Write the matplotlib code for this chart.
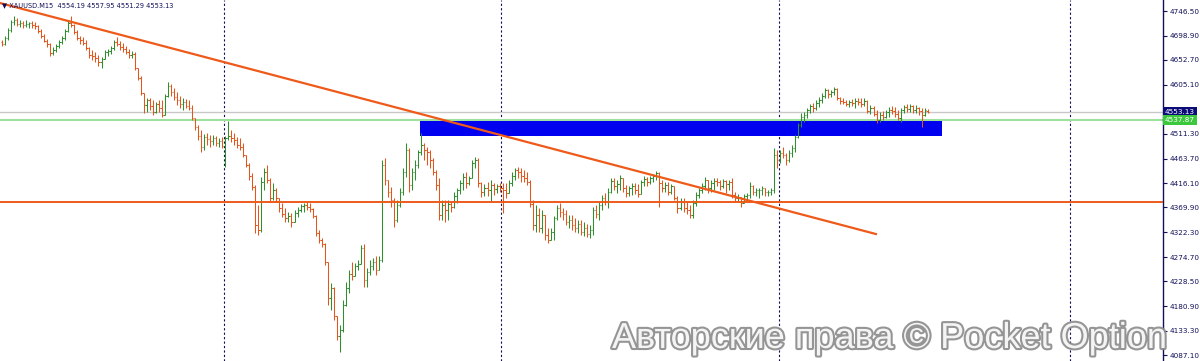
import numpy as np
import matplotlib
matplotlib.use("Agg")
import matplotlib.pyplot as plt
import matplotlib.patheffects as pe
import matplotlib.transforms as mtransforms
from matplotlib.patches import Rectangle

# XAUUSD M15 bars (prices)
highs = [4691, 4699, 4714, 4729, 4737, 4733, 4729, 4727, 4729, 4725,
         4727, 4725, 4720, 4712, 4702, 4693, 4685, 4678, 4683, 4691,
         4699, 4712, 4729, 4737, 4722, 4710, 4699, 4697, 4691, 4678,
         4672, 4668, 4662, 4658, 4672, 4674, 4679, 4691, 4697, 4689,
         4685, 4679, 4674, 4670, 4668, 4637, 4622, 4589, 4580, 4580,
         4576, 4572, 4576, 4576, 4587, 4610, 4607, 4599, 4591, 4584,
         4580, 4578, 4576, 4566, 4541, 4528, 4518, 4511, 4513, 4509,
         4509, 4507, 4503, 4505, 4507, 4536, 4518, 4513, 4505, 4503,
         4493, 4471, 4455, 4436, 4413, 4375, 4428, 4446, 4451, 4426,
         4417, 4407, 4388, 4378, 4369, 4361, 4359, 4365, 4371, 4377,
         4378, 4380, 4378, 4369, 4355, 4327, 4311, 4302, 4265, 4225,
         4217, 4158, 4145, 4193, 4227, 4250, 4265, 4263, 4269, 4298,
         4300, 4254, 4269, 4273, 4277, 4277, 4461, 4465, 4423, 4409,
         4388, 4384, 4407, 4446, 4493, 4484, 4446, 4461, 4480, 4513,
         4493, 4486, 4480, 4465, 4442, 4426, 4384, 4384, 4384, 4380,
         4400, 4407, 4423, 4436, 4438, 4430, 4461, 4467, 4465, 4419,
         4415, 4419, 4423, 4417, 4415, 4417, 4417, 4417, 4423, 4438,
         4446, 4447, 4446, 4442, 4438, 4423, 4384, 4375, 4369, 4365,
         4336, 4331, 4331, 4354, 4375, 4378, 4369, 4365, 4355, 4355,
         4350, 4346, 4346, 4342, 4338, 4336, 4371, 4375, 4380, 4394,
         4398, 4407, 4426, 4426, 4423, 4432, 4423, 4413, 4411, 4417,
         4417, 4415, 4423, 4430, 4428, 4430, 4434, 4440, 4438, 4423,
         4419, 4419, 4415, 4409, 4392, 4388, 4388, 4380, 4375, 4384,
         4400, 4407, 4417, 4428, 4423, 4423, 4426, 4426, 4423, 4424,
         4423, 4423, 4426, 4400, 4396, 4390, 4396, 4398, 4419, 4413,
         4407, 4407, 4411, 4405, 4403, 4407, 4484, 4480, 4480, 4486,
         4474, 4480, 4490, 4509, 4532, 4551, 4553, 4561, 4568, 4570,
         4576, 4582, 4589, 4599, 4597, 4595, 4601, 4599, 4582, 4580,
         4576, 4576, 4578, 4580, 4580, 4580, 4580, 4576, 4566, 4564,
         4557, 4553, 4555, 4557, 4562, 4564, 4562, 4557, 4561, 4566,
         4568, 4568, 4566, 4566, 4562, 4561, 4561, 4557.95]

lows = [4679, 4681, 4691, 4706, 4720, 4718, 4716, 4714, 4716, 4714,
        4714, 4712, 4704, 4695, 4687, 4678, 4660, 4662, 4668, 4676,
        4683, 4691, 4706, 4716, 4702, 4691, 4683, 4681, 4672, 4656,
        4653, 4649, 4641, 4637, 4656, 4660, 4664, 4672, 4679, 4672,
        4668, 4664, 4656, 4656, 4633, 4614, 4586, 4551, 4553, 4557,
        4547, 4551, 4553, 4543, 4551, 4582, 4584, 4576, 4566, 4561,
        4557, 4561, 4557, 4538, 4518, 4499, 4476, 4480, 4490, 4486,
        4490, 4488, 4486, 4484, 4447, 4499, 4495, 4490, 4484, 4480,
        4467, 4447, 4423, 4403, 4321, 4317, 4323, 4403, 4417, 4380,
        4384, 4380, 4361, 4352, 4342, 4342, 4332, 4342, 4352, 4361,
        4361, 4365, 4361, 4350, 4315, 4302, 4294, 4260, 4183, 4173,
        4154, 4116, 4093, 4131, 4181, 4206, 4231, 4240, 4250, 4265,
        4217, 4217, 4240, 4250, 4240, 4250, 4265, 4413, 4390, 4371,
        4332, 4342, 4371, 4394, 4428, 4400, 4403, 4423, 4446, 4471,
        4461, 4451, 4446, 4432, 4403, 4346, 4346, 4342, 4346, 4361,
        4369, 4378, 4396, 4403, 4407, 4413, 4426, 4446, 4409, 4390,
        4392, 4392, 4380, 4394, 4398, 4400, 4359, 4388, 4398, 4411,
        4423, 4426, 4419, 4419, 4413, 4371, 4327, 4323, 4323, 4321,
        4308, 4302, 4308, 4308, 4346, 4352, 4346, 4336, 4331, 4327,
        4323, 4321, 4317, 4315, 4313, 4311, 4317, 4350, 4346, 4365,
        4375, 4369, 4398, 4403, 4398, 4403, 4400, 4390, 4392, 4394,
        4396, 4390, 4396, 4411, 4411, 4415, 4419, 4423, 4371, 4400,
        4400, 4394, 4396, 4384, 4359, 4365, 4361, 4357, 4350, 4350,
        4373, 4388, 4398, 4403, 4398, 4400, 4403, 4411, 4403, 4407,
        4398, 4403, 4388, 4380, 4382, 4371, 4380, 4384, 4388, 4394,
        4392, 4388, 4394, 4392, 4392, 4394, 4398, 4446, 4455, 4465,
        4451, 4457, 4467, 4476, 4503, 4524, 4534, 4541, 4551, 4553,
        4557, 4562, 4570, 4580, 4580, 4582, 4586, 4576, 4568, 4568,
        4564, 4562, 4564, 4561, 4566, 4562, 4564, 4551, 4549, 4545,
        4532, 4534, 4538, 4541, 4543, 4549, 4543, 4538, 4534, 4551,
        4553, 4553, 4551, 4551, 4547, 4524, 4545, 4551.29]

closes = [4683, 4695, 4710, 4725, 4729, 4722, 4724, 4720, 4722, 4724,
          4720, 4718, 4708, 4699, 4689, 4683, 4666, 4672, 4679, 4687,
          4695, 4708, 4724, 4720, 4706, 4695, 4691, 4685, 4676, 4662,
          4660, 4656, 4649, 4655, 4668, 4670, 4676, 4687, 4683, 4678,
          4674, 4668, 4662, 4664, 4637, 4618, 4589, 4566, 4576, 4564,
          4553, 4568, 4561, 4547, 4584, 4603, 4591, 4582, 4576, 4568,
          4572, 4564, 4561, 4541, 4524, 4507, 4486, 4505, 4501, 4497,
          4503, 4493, 4497, 4488, 4503, 4507, 4503, 4499, 4490, 4486,
          4471, 4451, 4430, 4409, 4336, 4327, 4419, 4438, 4423, 4388,
          4403, 4388, 4369, 4357, 4350, 4354, 4342, 4359, 4365, 4373,
          4375, 4371, 4367, 4354, 4321, 4308, 4300, 4265, 4196, 4216,
          4162, 4124, 4135, 4183, 4216, 4242, 4239, 4258, 4262, 4292,
          4231, 4246, 4258, 4265, 4250, 4269, 4451, 4423, 4400, 4384,
          4346, 4375, 4400, 4438, 4480, 4413, 4438, 4451, 4476, 4490,
          4480, 4476, 4461, 4438, 4413, 4355, 4375, 4365, 4377, 4371,
          4392, 4403, 4417, 4428, 4417, 4426, 4455, 4461, 4417, 4400,
          4407, 4403, 4413, 4405, 4411, 4407, 4403, 4398, 4417, 4430,
          4442, 4438, 4430, 4426, 4419, 4377, 4336, 4355, 4331, 4355,
          4317, 4308, 4323, 4350, 4369, 4361, 4357, 4342, 4346, 4336,
          4331, 4338, 4323, 4331, 4319, 4327, 4365, 4357, 4375, 4388,
          4380, 4400, 4421, 4411, 4415, 4426, 4407, 4398, 4407, 4411,
          4403, 4396, 4419, 4424, 4419, 4426, 4430, 4436, 4417, 4407,
          4413, 4400, 4411, 4388, 4369, 4380, 4369, 4365, 4355, 4378,
          4394, 4403, 4411, 4423, 4407, 4417, 4421, 4419, 4411, 4421,
          4415, 4419, 4394, 4388, 4390, 4378, 4392, 4394, 4411, 4400,
          4403, 4403, 4407, 4400, 4400, 4403, 4471, 4461, 4474, 4471,
          4461, 4474, 4484, 4505, 4528, 4543, 4547, 4557, 4564, 4561,
          4570, 4576, 4584, 4595, 4587, 4591, 4597, 4580, 4574, 4572,
          4568, 4572, 4570, 4574, 4572, 4568, 4574, 4555, 4561, 4549,
          4538, 4547, 4543, 4553, 4557, 4555, 4549, 4541, 4557, 4562,
          4559, 4564, 4557, 4561, 4555, 4547, 4557, 4553.13]

first_open = 4687
last_open = 4554.19
level_price = 4537.87

# drawings on the chart (bar index, price)
trend_idx = [-0.66, 289.8]
trend_price = [4761.8, 4319.0]
support_price = 4380.4
zone_idx = [138.6, 311.7]
zone_price = [4506.0, 4536.0]
day_breaks = [73.6, 165.5, 257.6, 354.1]

yticks = [4746.50, 4698.90, 4652.70, 4605.10, 4511.30, 4463.70, 4416.10,
          4369.90, 4322.30, 4274.70, 4228.50, 4180.90, 4133.30, 4087.10]

up_col = "#2f8f2f"
dn_col = "#e2561c"
line_col = "#ee5a1a"
navy = "#10105a"

highs = np.array(highs, dtype=float)
lows = np.array(lows, dtype=float)
closes = np.array(closes, dtype=float)
opens = np.concatenate([[first_open], closes[:-1]])
opens[-1] = last_open
hi = np.maximum(highs, np.maximum(opens, closes))
lo = np.minimum(lows, np.minimum(opens, closes))
x = np.arange(len(closes))

fig = plt.figure(figsize=(12, 3.61), dpi=100)
ax = fig.add_axes([0, 0, 1163 / 1200, 1])
ax.set_facecolor("white")

# period separators
for b in day_breaks:
    ax.axvline(b, color=navy, ls=(0, (2, 2)), lw=0.8, zorder=1)

ax.axhline(closes[-1], color="#c8c8c8", lw=1, zorder=1)
ax.axhline(level_price, color="#9ee09e", lw=1.5, zorder=1)

ax.add_patch(Rectangle((zone_idx[0], zone_price[0]), zone_idx[1] - zone_idx[0],
                       zone_price[1] - zone_price[0], color="#0000f0", lw=0, zorder=2))

up = closes >= opens
for m, c in ((up, up_col), (~up, dn_col)):
    ax.vlines(x[m], lo[m], hi[m], color=c, lw=0.75, zorder=3)
    ax.hlines(opens[m], x[m] - 0.45, x[m], color=c, lw=0.75, zorder=3)
    ax.hlines(closes[m], x[m], x[m] + 0.45, color=c, lw=0.75, zorder=3)

ax.plot(trend_idx, trend_price, color=line_col, lw=1.6, zorder=4)
ax.axhline(support_price, color=line_col, lw=1.4, zorder=4)

ax.set_xlim(-0.66, 385.0)
ax.set_ylim(4075.6, 4767.6)
ax.set_xticks([])
ax.yaxis.tick_right()
ax.set_yticks(yticks)
ax.set_yticklabels(["%.2f" % v for v in yticks])
ax.tick_params(axis="y", colors=navy, labelsize=5.2, length=3, width=0.8, pad=1.5)
for s in ("left", "top", "bottom"):
    ax.spines[s].set_visible(False)
ax.spines["right"].set_color(navy)
ax.spines["right"].set_linewidth(1)

# price boxes on the scale
tr = mtransforms.blended_transform_factory(ax.transAxes, ax.transData)
ax.text(1.0015, closes[-1], "%.2f" % closes[-1], transform=tr, fontsize=5.2, color="white",
        va="center", ha="left", zorder=6, clip_on=False,
        bbox=dict(boxstyle="square,pad=0.25", fc="#0c0c78", ec="none"))
ax.text(1.0015, level_price, "%.2f" % level_price, transform=tr, fontsize=5.2, color="white",
        va="center", ha="left", zorder=6, clip_on=False,
        bbox=dict(boxstyle="square,pad=0.25", fc="#3cc83c", ec="none"))

header = "\u25bc XAUUSD.M15  %.2f %.2f %.2f %.2f" % (opens[-1], highs[-1], lows[-1], closes[-1])
fig.text(2 / 1200, 1 - 5 / 361, header, fontsize=4.8, color=navy, va="center", ha="left")

wm = fig.text(612 / 1200, 1 - 348 / 361, "Авторские права © Pocket Option",
              fontsize=26, family="Liberation Sans", color="white", va="baseline", ha="left",
              alpha=0.9, zorder=10)
wm.set_path_effects([pe.withStroke(linewidth=3, foreground="#8a8a8a")])

fig.savefig("out.png", dpi=100)
